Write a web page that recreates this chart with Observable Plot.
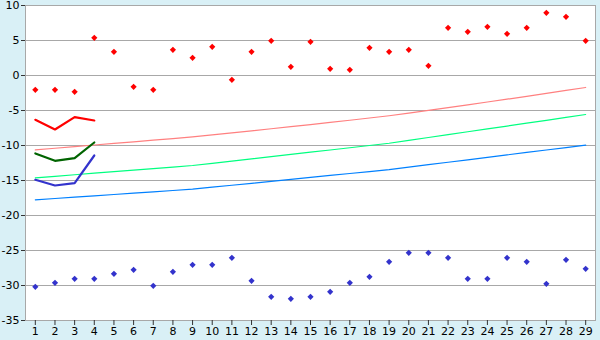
<!DOCTYPE html>
<html>
<head>
<meta charset="utf-8">
<script src="https://cdn.jsdelivr.net/npm/d3@7"></script>
<script src="https://cdn.jsdelivr.net/npm/@observablehq/plot@0.6"></script>
<style>
  html, body { margin: 0; padding: 0; background: #d9f0f6; }
  #chart svg { display: block; }
</style>
</head>
<body>
<div id="chart"></div>
<script>
const days = d3.range(1, 30);
const xTicks = d3.range(1, 30);
const yTicks = [-35, -30, -25, -20, -15, -10, -5, 0, 5, 10];

const redPoints = [-2.05, -2.05, -2.33, 5.38, 3.38, -1.62, -2.05, 3.67, 2.52, 4.1,
  -0.62, 3.38, 4.95, 1.24, 4.81, 0.95, 0.81, 3.95, 3.38, 3.67,
  1.38, 6.81, 6.24, 6.95, 5.95, 6.81, 8.95, 8.38, 4.95];
const bluePoints = [-30.19, -29.62, -29.05, -29.05, -28.33, -27.76, -30.05, -28.05, -27.05, -27.05,
  -26.05, -29.33, -31.62, -31.9, -31.62, -30.9, -29.62, -28.76, -26.62, -25.33,
  -25.33, -26.05, -29.05, -29.05, -26.05, -26.62, -29.76, -26.33, -27.62];

const shortDays = [1, 2, 3, 4];
const redShort = [-6.33, -7.71, -5.95, -6.43];
const greenShort = [-11.14, -12.19, -11.81, -9.57];
const blueShort = [-14.9, -15.71, -15.38, -11.43];

const pinkLine = [-10.62, -10.39, -10.16, -9.93, -9.70, -9.47, -9.24, -9.01, -8.78, -8.49,
  -8.20, -7.91, -7.61, -7.31, -7.01, -6.70, -6.39, -6.07, -5.75, -5.37,
  -4.98, -4.59, -4.19, -3.79, -3.38, -2.97, -2.55, -2.13, -1.71];
const greenLine = [-14.62, -14.40, -14.18, -13.96, -13.74, -13.52, -13.30, -13.08, -12.86, -12.55,
  -12.24, -11.92, -11.60, -11.28, -10.96, -10.64, -10.32, -10.00, -9.68, -9.27,
  -8.86, -8.45, -8.04, -7.63, -7.22, -6.81, -6.40, -5.99, -5.57];
const blueLine = [-17.76, -17.57, -17.38, -17.19, -17.00, -16.81, -16.62, -16.43, -16.24, -15.96,
  -15.68, -15.40, -15.12, -14.84, -14.56, -14.28, -14.00, -13.72, -13.44, -13.09,
  -12.74, -12.39, -12.04, -11.69, -11.34, -10.99, -10.64, -10.29, -9.95];

const pts = (xs, ys) => xs.map((x, i) => ({x, y: ys[i]}));

const chart = Plot.plot({
  width: 600,
  height: 340,
  marginLeft: 25,
  marginRight: 5,
  marginTop: 5,
  marginBottom: 20,
  style: {background: "#d9f0f6", fontFamily: "DejaVu Sans, Verdana, sans-serif", fontSize: "11px", color: "#000"},
  x: {type: "linear", domain: [0.5, 29.5]},
  y: {domain: [-35, 10]},
  marks: [
    Plot.frame({fill: "white", stroke: null}),
    Plot.gridY(yTicks, {stroke: "#a8a8a8", strokeOpacity: 1, strokeWidth: 1}),
    Plot.frame({stroke: "#a8a8a8", strokeWidth: 1}),
    Plot.axisX({ticks: xTicks, tickSize: 5, tickPadding: 2, tickFormat: d => String(d), label: null, stroke: "#333", fill: "#000"}),
    Plot.axisY({ticks: yTicks, tickSize: 4, tickPadding: 2, tickFormat: d => String(d), label: null, stroke: "#333", fill: "#000"}),
    Plot.lineY(pts(days, pinkLine), {x: "x", y: "y", stroke: "#ff8080", strokeWidth: 1.2}),
    Plot.lineY(pts(days, greenLine), {x: "x", y: "y", stroke: "#00ff80", strokeWidth: 1.2}),
    Plot.lineY(pts(days, blueLine), {x: "x", y: "y", stroke: "#0080ff", strokeWidth: 1.2}),
    Plot.lineY(pts(shortDays, redShort), {x: "x", y: "y", stroke: "#ff0000", strokeWidth: 2.2}),
    Plot.lineY(pts(shortDays, greenShort), {x: "x", y: "y", stroke: "#006400", strokeWidth: 2.2}),
    Plot.lineY(pts(shortDays, blueShort), {x: "x", y: "y", stroke: "#3333cc", strokeWidth: 2.2}),
    Plot.dot(pts(days, redPoints), {x: "x", y: "y", symbol: "diamond2", r: 2.8, fill: "#ff0000", stroke: null}),
    Plot.dot(pts(days, bluePoints), {x: "x", y: "y", symbol: "diamond2", r: 2.8, fill: "#3333cc", stroke: null})
  ]
});
document.getElementById("chart").appendChild(chart);
</script>
</body>
</html>
